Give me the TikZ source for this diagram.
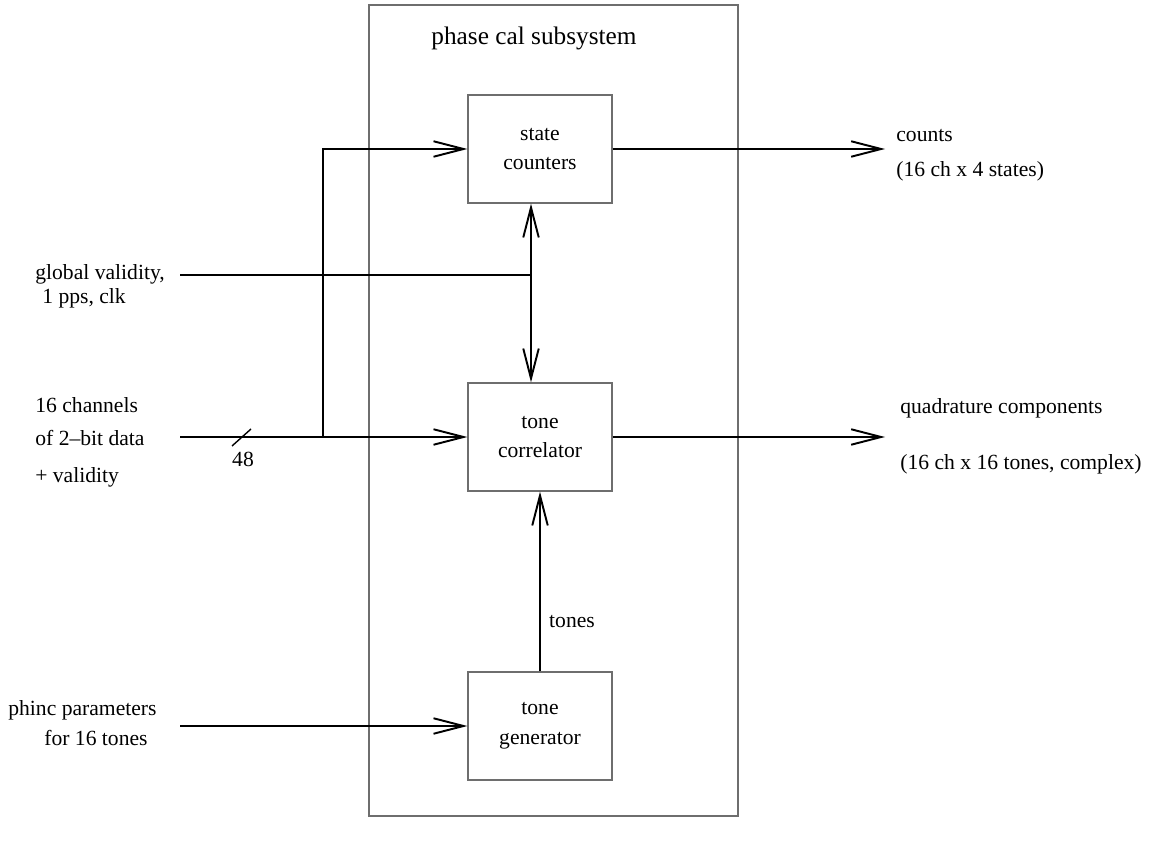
\documentclass[tikz,border=0pt]{standalone}
\usepackage{fontspec}
\setmainfont{Liberation Serif}
\usetikzlibrary{arrows.meta}
\definecolor{framegray}{RGB}{110,110,110}

\begin{document}
\begin{tikzpicture}[x=0.02cm,y=-0.02cm,
    >={Straight Barb[length=0.6cm,width=0.31cm,line width=1.1pt]},
    block/.style={draw=framegray, line width=0.7pt, minimum width=2.88cm,
      minimum height=2.16cm, align=center, font=\fontsize{12.3}{17}\selectfont},
    sig/.style={line width=1.1pt, ->},
    txt/.style={font=\fontsize{12.3}{15}\selectfont, inner sep=0pt}]
  \useasboundingbox (0,0) rectangle (1149,844);

  % subsystem frame
  \draw[framegray, line width=0.7pt] (369,5) rectangle (738,816);
  \node[txt, font=\fontsize{14.4}{17}\selectfont] (title) at (534,38) {phase cal subsystem};

  % blocks
  \node[block] (sc) at (540,149) {state\\counters};
  \node[block] (tc) at (540,437) {tone\\correlator};
  \node[block] (tg) at (540,726) {tone\\generator};

  % inputs
  \node[txt, anchor=west] (gva) at (35,274) {global validity,};
  \node[txt, anchor=west] (gvb) at (42,298) {1 pps, clk};
  \node[txt, anchor=west] (dta) at (35,405) {16 channels};
  \node[txt, anchor=west] (dtb) at (35,438) {of 2--bit data};
  \node[txt, anchor=west] (dtc) at (35,477) {+ validity};
  \node[txt, anchor=west] (pha) at (8,710) {phinc parameters};
  \node[txt, anchor=west] (phb) at (44,738) {for 16 tones};

  \coordinate (gvin) at (180,275);
  \coordinate (gvj) at (531,275);
  \coordinate (din) at (180,437);
  \coordinate (dj) at (323,437);
  \coordinate (pin) at (180,726);

  \draw[line width=1.1pt] (gvin) -- (gvj);
  \draw[line width=1.1pt, <->] (gvj |- sc.south) -- (gvj |- tc.north);
  \draw[sig] (din) -- (tc.west);
  \draw[sig] (dj) |- (sc.west);
  \draw[sig] (pin) -- (tg.west);

  % bus width
  \draw[line width=0.8pt] (232,446) -- (251,429);
  \node[txt] (bw) at (243,459) {48};

  % tones
  \draw[sig] (tg.north) -- (tc.south);
  \node[txt] (tn) at (572,622) {tones};

  % outputs
  \coordinate (cnt) at (885,149);
  \coordinate (qc) at (885,437);
  \draw[sig] (sc.east) -- (cnt);
  \draw[sig] (tc.east) -- (qc);
  \node[txt, anchor=west] (cna) at (896,136) {counts};
  \node[txt, anchor=west] (cnb) at (896,171) {(16 ch x 4 states)};
  \node[txt, anchor=west] (qca) at (900,408) {quadrature components};
  \node[txt, anchor=west] (qcb) at (900,464) {(16 ch x 16 tones, complex)};
\end{tikzpicture}
\end{document}
